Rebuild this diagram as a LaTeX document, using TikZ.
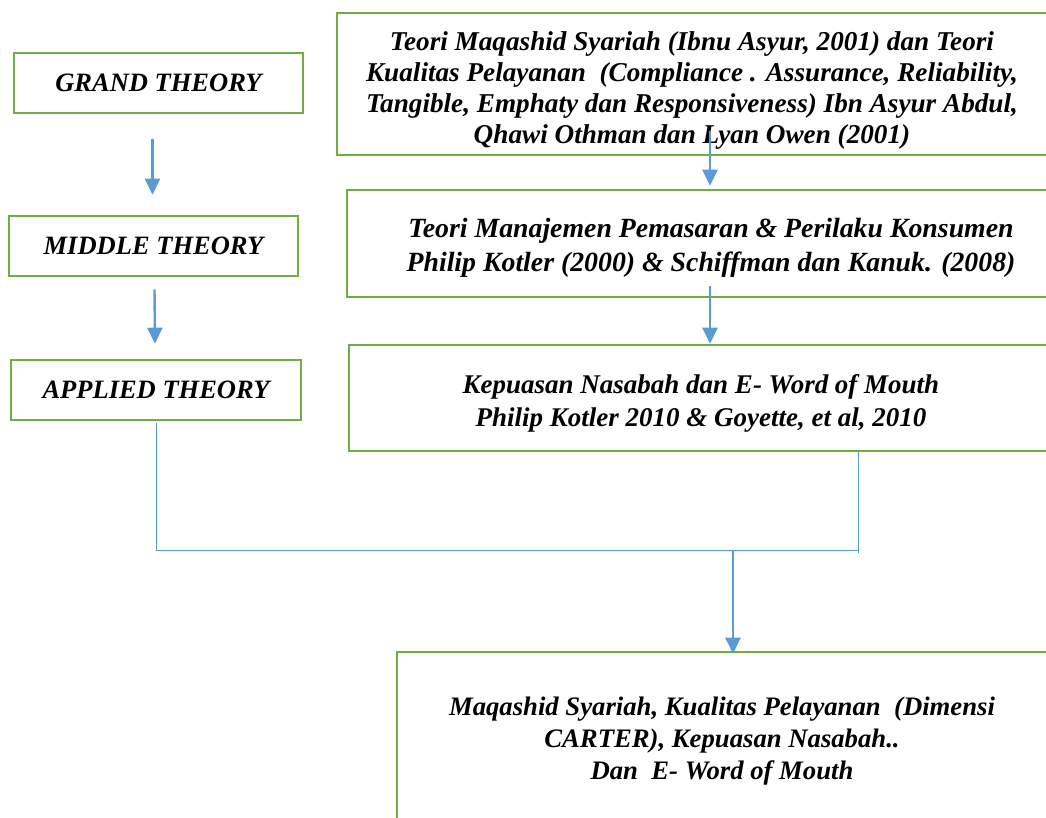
\documentclass[tikz,border=0pt]{standalone}
\usepackage{fontspec}
\setmainfont{Liberation Serif}
\usetikzlibrary{calc,arrows.meta}
\definecolor{boxgreen}{HTML}{70AD47}
\definecolor{linkblue}{HTML}{5B9BD5}
\newcommand{\fsz}[2]{\fontsize{#1}{#2}\selectfont\bfseries\itshape}
\tikzset{
  box/.style={draw=boxgreen, line width=2.6pt, align=center, inner sep=0pt},
  arr/.style={draw=linkblue, line width=2.4pt, -{Triangle[length=16pt,width=15pt]}},
  link/.style={draw=linkblue, line width=1pt}
}
\begin{document}
\begin{tikzpicture}[x=1pt,y=-1pt]
\useasboundingbox (0,0) rectangle (1046,817);

% left column: levels of theory
\tikzset{level/.style={box, font=\fsz{26.5}{31}, minimum height=60pt}}
\node[level, minimum width=289pt] (grand) at (158.5,83) {GRAND THEORY};
\node[level, minimum width=289pt] (middle) at (153.5,246) {MIDDLE THEORY};
\node[level, minimum width=290pt] (applied) at (156,390) {APPLIED THEORY};

% right column: the theories themselves
\node[box, font=\fsz{27.2}{31}, minimum width=710pt, minimum height=142pt] (grandtxt) at (692,84)
  {\rule{0pt}{32pt}Teori Maqashid Syariah (Ibnu Asyur, 2001) dan Teori\\
   Kualitas Pelayanan\ \ (Compliance . Assurance, Reliability,\\
   Tangible, Emphaty dan Responsiveness) Ibn Asyur Abdul,\\
   Qhawi Othman dan Lyan Owen (2001)};
\node[box, font=\fsz{27.8}{34}, minimum width=728pt, minimum height=107pt] (middletxt) at (711,243.5)
  {\rule{0pt}{27pt}Teori Manajemen Pemasaran \& Perilaku Konsumen\\
   Philip Kotler (2000) \& Schiffman dan Kanuk. (2008)};
\node[box, font=\fsz{27}{33}, minimum width=704pt, minimum height=106pt] (appliedtxt) at (701,398)
  {\rule{0pt}{29pt}Kepuasan Nasabah dan E- Word of Mouth\\
   Philip Kotler 2010 \& Goyette, et al, 2010};
\node[box, font=\fsz{26.7}{32}, minimum width=650pt, minimum height=172pt] (result) at (722,738)
  {\rule{0pt}{25pt}Maqashid Syariah, Kualitas Pelayanan\ \ (Dimensi\\
   CARTER), Kepuasan Nasabah..\\
   Dan\ \ E- Word of Mouth};

% arrows between levels
\draw[arr] ($(grand.south)+(-6,25)$) -- ($(middle.north)+(-1,-20)$);
\draw[arr] ($(middle.south)+(1,12)$) -- ($(applied.north)+(-1,-15)$);
\draw[arr] ($(grandtxt.south)+(18,-25)$) -- ($(middletxt.north)+(-1,-3)$);
\draw[arr] ($(middletxt.south)+(-1,-12)$) -- ($(appliedtxt.north)+(9,0)$);

% merging connector into the result
\coordinate (merge) at ($(appliedtxt.south)+(157,98)$);
\draw[link] ($(applied.south)+(0,2)$) |- (merge);
\draw[link] ($(appliedtxt.south)+(157,0)$) -- ($(merge)+(0,3)$);
\draw[arr] (merge -| {$(result.north)+(11,0)$}) -- ($(result.north)+(11,3)$);
\end{tikzpicture}
\end{document}
